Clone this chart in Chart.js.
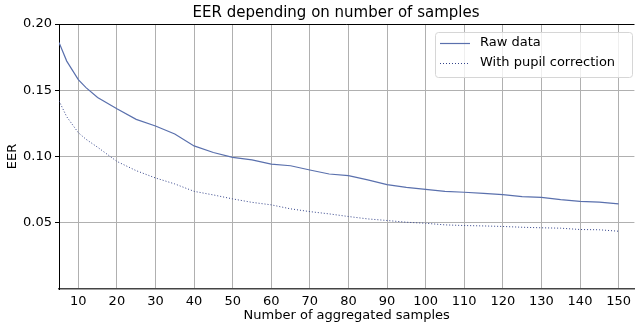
<!DOCTYPE html>
<html>
<head>
<meta charset="utf-8">
<script src="https://cdn.jsdelivr.net/npm/chart.js@4"></script>
<style>
    html, body { margin: 0; padding: 0; background: #fff; }
    canvas { display: block; }
</style>
</head>
<body>
<canvas id="eerChart" width="636" height="326"></canvas>
<script>
const samples = [5, 7, 10, 12, 15, 20, 25, 30, 35, 40, 45, 50, 55, 60, 65, 70, 75, 80, 85, 90, 95, 100, 105, 110, 115, 120, 125, 130, 135, 140, 145, 150];
const rawEer = [0.186, 0.172, 0.158, 0.152, 0.1445, 0.136, 0.128, 0.123, 0.117, 0.108, 0.103, 0.0993, 0.0974, 0.0943, 0.093, 0.0898, 0.0868, 0.0855, 0.0823, 0.0788, 0.0767, 0.0752, 0.0737, 0.073, 0.0722, 0.0712, 0.0697, 0.0692, 0.0675, 0.0662, 0.0655, 0.0642];
const pupilEer = [0.142, 0.130, 0.118, 0.113, 0.107, 0.0963, 0.0893, 0.0838, 0.0793, 0.0737, 0.071, 0.068, 0.0654, 0.0635, 0.0605, 0.0584, 0.0567, 0.0547, 0.0529, 0.0517, 0.0504, 0.0496, 0.0484, 0.0479, 0.0476, 0.0472, 0.0466, 0.0462, 0.0459, 0.0449, 0.0447, 0.0436];
const yTicks = [0.05, 0.10, 0.15, 0.20];
const seriesNames = ['Raw data', 'With pupil correction'];
const chartTitle = 'EER depending on number of samples';

const FONT = 'DejaVu Sans';
const rawColor = '#5a70ad';
const pupilColor = '#34448a';

// title, top spine and matplotlib-style legend inside the plot
const decorations = {
    id: 'decorations',
    afterDraw(chart) {
        const ctx = chart.ctx;
        const a = chart.chartArea;
        ctx.save();

        ctx.font = '15px ' + FONT;
        ctx.fillStyle = '#000';
        ctx.textAlign = 'center';
        ctx.textBaseline = 'alphabetic';
        ctx.fillText(chartTitle, 336, 17);

        ctx.beginPath();
        ctx.strokeStyle = '#000';
        ctx.lineWidth = 1;
        ctx.moveTo(a.left, a.top + 0.5);
        ctx.lineTo(a.right, a.top + 0.5);
        ctx.stroke();

        const x = 435, y = 32, w = 197, h = 45;
        ctx.beginPath();
        ctx.roundRect(x + 0.5, y + 0.5, w, h, 3);
        ctx.fillStyle = 'rgba(255,255,255,0.8)';
        ctx.fill();
        ctx.strokeStyle = '#d6d6d6';
        ctx.stroke();

        ctx.font = '13px ' + FONT;
        ctx.textAlign = 'left';
        ctx.textBaseline = 'middle';
        chart.data.datasets.forEach((ds, i) => {
            const ly = y + 11 + i * 20;
            ctx.beginPath();
            ctx.strokeStyle = ds.borderColor;
            ctx.lineWidth = ds.borderWidth;
            ctx.setLineDash(ds.borderDash || []);
            ctx.moveTo(x + 5, ly + 0.5);
            ctx.lineTo(x + 35, ly + 0.5);
            ctx.stroke();
            ctx.setLineDash([]);
            ctx.fillStyle = '#000';
            ctx.fillText(ds.label, x + 45, ly);
        });
        ctx.restore();
    }
};

new Chart(document.getElementById('eerChart'), {
    type: 'line',
    data: {
        datasets: [
            {
                label: seriesNames[0],
                data: samples.map((s, i) => ({ x: s, y: rawEer[i] })),
                borderColor: rawColor,
                borderWidth: 1.2,
                pointRadius: 0,
                tension: 0,
                fill: false
            },
            {
                label: seriesNames[1],
                data: samples.map((s, i) => ({ x: s, y: pupilEer[i] })),
                borderColor: pupilColor,
                borderWidth: 1,
                borderDash: [1, 2],
                pointRadius: 0,
                tension: 0,
                fill: false
            }
        ]
    },
    options: {
        responsive: false,
        devicePixelRatio: 1,
        animation: false,
        layout: { padding: { left: 0, right: 0, top: 24, bottom: 0 } },
        plugins: {
            legend: { display: false },
            tooltip: { enabled: false },
            title: { display: false }
        },
        scales: {
            x: {
                type: 'linear',
                min: 5,
                max: 154.1,
                afterFit: s => { s.height = 37; },
                border: { color: '#444', width: 1.5 },
                grid: { color: '#b0b0b0', lineWidth: 1, drawTicks: false },
                ticks: {
                    stepSize: 10,
                    includeBounds: false,
                    padding: 5,
                    color: '#000',
                    font: { family: FONT, size: 13 },
                    maxRotation: 0
                },
                title: {
                    display: true,
                    text: 'Number of aggregated samples',
                    color: '#000',
                    font: { family: FONT, size: 13 },
                    padding: { top: 0, bottom: 3 }
                }
            },
            y: {
                min: 0,
                max: 0.2,
                afterFit: s => { s.width = 59; },
                afterBuildTicks: s => { s.ticks = yTicks.map(v => ({ value: v })); },
                border: { color: '#000', width: 1 },
                grid: { color: '#b0b0b0', lineWidth: 1, tickLength: 4, tickColor: '#000' },
                ticks: {
                    padding: 3,
                    color: '#000',
                    font: { family: FONT, size: 13 },
                    callback: v => v.toFixed(2)
                },
                title: {
                    display: true,
                    text: 'EER',
                    color: '#000',
                    font: { family: FONT, size: 13 },
                    padding: { top: 5, bottom: 0 }
                }
            }
        }
    },
    plugins: [decorations]
});
</script>
</body>
</html>
